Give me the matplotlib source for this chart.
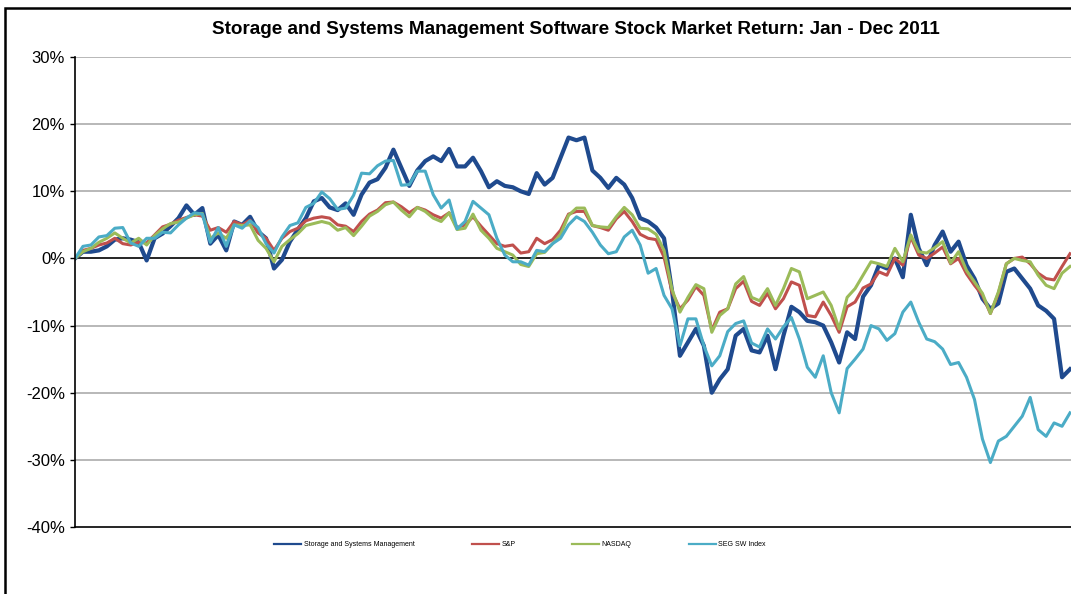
import numpy as np
import matplotlib
matplotlib.use("Agg")
from matplotlib import pyplot as plt
from matplotlib.patches import Rectangle
from matplotlib.ticker import FuncFormatter

plt.rcParams['font.family'] = ['Liberation Sans', 'DejaVu Sans']
plt.rcParams['axes.unicode_minus'] = False

# returns in %, sampled every other trading day of 2011
ssm = [0, 1.0, 1.0, 1.2, 1.8, 2.8, 3.0, 2.8, 2.4, -0.3,
       3.0, 3.7, 4.8, 6.0, 7.9, 6.5, 7.5, 2.2, 3.5, 1.2,
       5.5, 5.0, 6.2, 4.0, 3.0, -1.5, -0.2, 2.5, 4.3, 6.0,
       8.5, 9.0, 7.6, 7.2, 8.2, 6.5, 9.5, 11.3, 11.8, 13.5,
       16.2, 13.5, 10.8, 13.1, 14.5, 15.2, 14.5, 16.3, 13.7, 13.7,
       15.0, 13.0, 10.6, 11.5, 10.8, 10.6, 10.0, 9.6, 12.7, 11.0,
       12.0, 15.0, 18.0, 17.6, 18.0, 13.1, 12.0, 10.5, 12.0, 11.0,
       9.0, 6.0, 5.5, 4.6, 3.0, -4.8, -14.5, -12.5, -10.5, -13.0,
       -20.0, -18.0, -16.5, -11.5, -10.5, -13.7, -14.0, -11.5, -16.5, -11.5,
       -7.2, -8.0, -9.3, -9.5, -10.0, -12.5, -15.5, -11.0, -12.0, -5.7,
       -4.0, -1.0, -1.5, 0.0, -2.8, 6.5, 1.5, -1.0, 2.0, 4.0,
       1.0, 2.5, -1.0, -3.0, -6.0, -7.5, -6.7, -2.0, -1.5, -3.0,
       -4.5, -7.0, -7.8, -9.0, -17.7, -16.5]

sp = [0, 1.2, 1.5, 2.0, 2.3, 3.0, 2.2, 2.0, 2.4, 2.3,
      3.5, 4.7, 5.1, 5.7, 6.1, 6.5, 6.3, 4.2, 4.6, 3.9,
      5.5, 5.0, 5.7, 3.8, 3.0, 1.2, 3.0, 4.0, 4.5, 5.6,
      6.0, 6.2, 6.0, 5.0, 4.8, 4.0, 5.5, 6.6, 7.2, 8.3,
      8.4, 7.7, 6.8, 7.6, 7.2, 6.5, 6.0, 6.8, 4.6, 5.0,
      6.2, 4.8, 3.5, 2.2, 1.8, 2.0, 0.8, 1.0, 3.0, 2.2,
      2.8, 4.2, 6.6, 7.0, 7.0, 4.9, 4.6, 4.2, 5.9, 7.0,
      5.5, 3.6, 3.0, 2.8, 0.2, -5.0, -7.5, -6.2, -4.2, -5.5,
      -10.7, -8.0, -7.5, -4.5, -3.4, -6.4, -7.0, -5.2, -7.5, -6.0,
      -3.5, -4.0, -8.5, -8.7, -6.5, -8.5, -11.0, -7.2, -6.5, -4.4,
      -3.8, -2.0, -2.5, 0.0, -1.0, 3.2, 0.5, 0.0, 0.8, 1.7,
      -0.8, 0.0, -2.3, -4.0, -5.5, -8.2, -5.2, -0.8, 0.0, 0.2,
      -0.8, -2.2, -3.0, -3.2, -1.2, 0.7]

nasdaq = [0, 1.0, 1.5, 2.4, 3.0, 3.8, 3.0, 2.3, 3.0, 2.0,
          3.4, 4.4, 5.2, 5.4, 6.0, 6.5, 6.7, 3.0, 3.8, 3.0,
          5.0, 4.9, 5.0, 2.7, 1.5, -0.5, 1.8, 2.8, 3.7, 4.9,
          5.2, 5.5, 5.2, 4.2, 4.6, 3.4, 4.8, 6.3, 7.0, 8.0,
          8.4, 7.2, 6.2, 7.6, 7.0, 6.0, 5.5, 6.8, 4.3, 4.5,
          6.6, 4.2, 3.0, 1.5, 1.0, 0.5, -0.9, -1.2, 0.7, 0.9,
          2.2, 3.6, 6.4, 7.5, 7.5, 4.9, 4.7, 4.6, 6.2, 7.6,
          6.5, 4.5, 4.4, 3.6, 1.2, -4.6, -8.0, -5.8, -3.9, -4.5,
          -11.0, -8.5, -7.5, -3.8, -2.7, -5.8, -6.3, -4.5, -7.0, -4.5,
          -1.5, -2.0, -6.0, -5.5, -5.0, -7.0, -10.5, -5.8, -4.5, -2.5,
          -0.5, -0.8, -1.2, 1.5, -0.5, 3.5, 1.0, 0.8, 1.6, 2.5,
          -0.7, 1.0, -1.8, -3.5, -5.2, -8.2, -5.0, -0.8, 0.0, -0.3,
          -0.5, -2.5, -4.0, -4.5, -2.2, -1.2]

seg = [0, 1.8, 2.0, 3.2, 3.4, 4.5, 4.6, 2.3, 1.8, 3.0,
       3.0, 3.9, 3.8, 5.0, 6.0, 6.8, 6.6, 2.4, 4.6, 1.8,
       5.0, 4.5, 5.6, 4.6, 2.2, 0.8, 3.2, 4.9, 5.3, 7.6,
       8.2, 9.9, 8.9, 7.3, 7.5, 9.4, 12.7, 12.6, 13.8, 14.5,
       14.6, 10.9, 11.0, 13.0, 13.0, 9.5, 7.5, 8.7, 4.4, 5.5,
       8.5, 7.5, 6.5, 3.0, 0.5, -0.5, -0.5, -1.0, 1.2, 1.0,
       2.2, 3.0, 5.0, 6.2, 5.5, 3.9, 2.0, 0.7, 1.0, 3.2,
       4.2, 2.0, -2.2, -1.5, -5.5, -7.5, -13.0, -9.0, -9.0, -13.0,
       -16.0, -14.5, -10.9, -9.7, -9.3, -12.6, -13.2, -10.5, -12.0, -10.2,
       -8.8, -12.0, -16.2, -17.7, -14.5, -20.0, -23.0, -16.4, -15.0, -13.5,
       -10.0, -10.5, -12.2, -11.2, -8.0, -6.5, -9.5, -12.0, -12.4, -13.5,
       -15.8, -15.5, -17.7, -21.0, -26.9, -30.4, -27.2, -26.5, -25.0, -23.5,
       -20.7, -25.5, -26.5, -24.5, -25.0, -23.0]

names = ["Storage and Systems Management", "S&P", "NASDAQ", "SEG SW Index"]
colors = ["#1F4A8E", "#C0504D", "#9BBB59", "#4BACC6"]

fig = plt.figure(figsize=(10.71, 5.94), dpi=100)
ax = fig.add_axes([75 / 1071, 1 - 527 / 594, 1000 / 1071, 470 / 594])

x = np.arange(len(ssm))
series = [ssm, sp, nasdaq, seg]
widths = [3.0, 2.2, 2.2, 2.2]
for vals, name, c, w in zip(series, names, colors, widths):
    ax.plot(x, vals, color=c, linewidth=w, label=name, solid_joinstyle='round')

ax.set_xlim(0, 1000 / 7.96)
ax.set_ylim(-40, 30)
ax.set_yticks(np.arange(-40, 31, 10))
ax.yaxis.set_major_formatter(FuncFormatter(lambda v, p: "%d%%" % v))
ax.set_xticks([])
for v in range(-30, 31, 10):
    if v != 0:
        ax.axhline(v, color="#ABABAB", linewidth=1.2, zorder=0)
ax.axhline(0, color="black", linewidth=1.2, zorder=1)
ax.spines['top'].set_visible(False)
ax.spines['right'].set_visible(False)
ax.spines['left'].set_linewidth(1.2)
ax.spines['bottom'].set_linewidth(1.2)
ax.tick_params(axis='y', direction='out', length=3.6, width=1, labelsize=12, pad=3.6)

fig.text(576 / 1071, 1 - 30 / 594, "Storage and Systems Management Software Stock Market Return: Jan - Dec 2011",
         ha="center", va="center", fontsize=13.6, fontweight="bold")

leg = fig.legend(loc="center", bbox_to_anchor=(520 / 1071, 1 - 545 / 594), ncol=4,
                 frameon=False, fontsize=5.0, handlelength=3.9, handletextpad=0.36,
                 columnspacing=8.2)
for line in leg.get_lines():
    line.set_linewidth(1.6)

# outer chart frame
fig.patches.append(Rectangle((5 / 1071, -0.1), 1.2, 1 - 8 / 594 + 0.1, transform=fig.transFigure,
                             fill=False, edgecolor="black", linewidth=1.8, clip_on=False))

plt.savefig("out.png", dpi=100)
